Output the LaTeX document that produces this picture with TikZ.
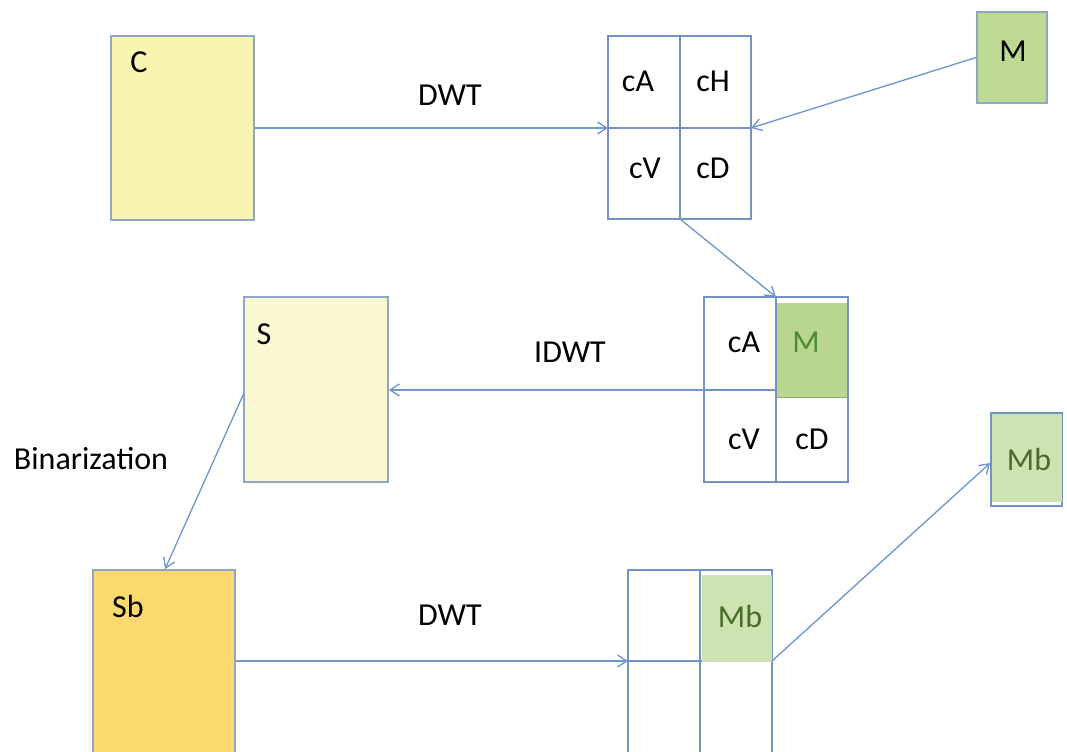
\documentclass[tikz,border=0pt]{standalone}
\usepackage{fontspec}
\setmainfont{Carlito}
\usetikzlibrary{fit,arrows.meta}
\definecolor{lineblue}{HTML}{7096CE}
\definecolor{boxedge}{HTML}{8FA7C2}
\definecolor{cyellow}{HTML}{F8F5B3}
\definecolor{syellow}{HTML}{FBF9D4}
\definecolor{sbyellow}{HTML}{FBD96F}
\definecolor{mgreen}{HTML}{BDD993}
\definecolor{mgreen2}{HTML}{B9D690}
\definecolor{mbgreen}{HTML}{CDE3B1}
\definecolor{greentext}{HTML}{4A6B2A}
\definecolor{midtext}{HTML}{4F8A2E}
\tikzset{
  every node/.style={font=\fontsize{24}{28}\selectfont},
  box/.style={draw=boxedge, line width=1.3pt, inner sep=0pt},
  cell/.style={draw=lineblue!85!gray, line width=1.2pt, inner sep=0pt},
  patch/.style={inner sep=0pt, draw=none},
  txt/.style={inner sep=0pt, anchor=center},
  arr/.style={draw=lineblue, line width=1pt, -{Straight Barb[length=7pt,width=9pt]}},
}
\begin{document}
\begin{tikzpicture}[x=0.75pt,y=-0.75pt]
\useasboundingbox (0,0) rectangle (1067,752);
\clip (0,0) rectangle (1067,752);
% C box
\node[box, fill=cyellow, fit={(111,36) (254,220)}] (C) {};
\node[txt] (Clab) at (139,62) {C};
% top grid
\node[cell, fit={(608,36) (680,128)}] (tA) {};
\node[cell, fit={(680,36) (751,128)}] (tH) {};
\node[cell, fit={(608,128) (680,219)}] (tV) {};
\node[cell, fit={(680,128) (751,219)}] (tD) {};
\node[txt] (tAl) at (638,81) {cA};
\node[txt] (tHl) at (713,81) {cH};
\node[txt] (tVl) at (645,168) {cV};
\node[txt] (tDl) at (713,168) {cD};
% M box
\node[box, fill=mgreen, fit={(977,12) (1047,103)}] (M) {};
\node[txt] (Ml) at (1013,51) {M};
% middle grid
\node[cell, fit={(704,297) (776,390)}] (mA) {};
\node[cell, fit={(776,297) (848,390)}] (mM) {};
\node[cell, fit={(704,390) (776,482)}] (mV) {};
\node[cell, fit={(776,390) (848,482)}] (mD) {};
\node[patch, fill=mgreen2, fit={(777,303) (847,397)}] (mMfill) {};
\draw[draw=mgreen2!80!black, line width=0.6pt] (mMfill.south west) -- (mMfill.south east);
\node[txt] (mAl) at (744,342) {cA};
\node[txt, text=midtext] (mMl) at (806,342) {M};
\node[txt] (mVl) at (744,439) {cV};
\node[txt] (mDl) at (812,439) {cD};
% S box
\node[box, fill=syellow, fit={(244,297) (388,482)}] (S) {};
\node[txt] (Sl) at (264,334) {S};
% Sb box
\node[box, fill=sbyellow, fit={(93,570) (235,780)}] (Sb) {};
\node[txt] (Sbl) at (128,606) {Sb};
% bottom grid
\node[cell, fit={(628,570) (700,661)}] (bA) {};
\node[cell, fit={(700,570) (772,661)}] (bH) {};
\node[cell, fit={(628,661) (700,780)}] (bV) {};
\node[cell, fit={(700,661) (772,780)}] (bD) {};
\node[patch, fill=mbgreen, fit={(702,575) (772,662)}] (bMb) {};
\node[txt, text=greentext] (bMbl) at (740,616) {Mb};
% Mb box
\node[cell, fit={(991,413) (1062,506)}] (Mb) {};
\node[patch, fill=mbgreen, fit={(992,414) (1062,502)}] (Mbfill) {};
\node[txt, text=greentext] (Mbl) at (1029,459) {Mb};
% labels
\node[txt] (dwt1) at (450,95) {DWT};
\node[txt] (idwt) at (570,352) {IDWT};
\node[txt] (bin) at (91,459) {Binarization};
\node[txt] (dwt2) at (450,615) {DWT};
% connectors
\coordinate (tGridW) at (608,128);
\coordinate (tGridE) at (751,128);
\coordinate (tGridS) at (680,219);
\coordinate (mGridN) at (776,297);
\coordinate (mGridW) at (704,390);
\coordinate (bGridW) at (628,661);
\coordinate (bGridP) at (772,661);
\coordinate (Sout) at (244,393);
\draw[arr] (C.east |- tGridW) -- (tGridW);
\draw[arr] (M.west) -- (tGridE);
\draw[arr] (tGridS) -- (mGridN);
\draw[arr] (mGridW) -- (S.east |- mGridW);
\draw[arr] (Sout) -- (Sb.north -| 165,0);
\draw[arr] (Sb.east |- bGridW) -- (bGridW);
\draw[arr] (bGridP) -- (Mb.west |- 0,463);
\end{tikzpicture}
\end{document}
